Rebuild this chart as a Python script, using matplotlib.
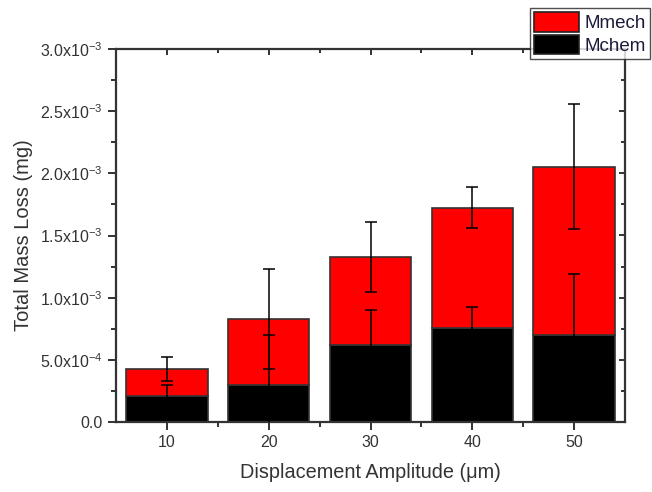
import matplotlib
matplotlib.use("Agg")
import matplotlib.pyplot as plt
import numpy as np
from matplotlib.patches import Patch
from matplotlib.ticker import FixedLocator, FuncFormatter, MultipleLocator

plt.rcParams['font.family'] = ['Liberation Sans', 'DejaVu Sans']
plt.rcParams['mathtext.fontset'] = 'custom'
plt.rcParams['mathtext.rm'] = 'Liberation Sans'
plt.rcParams['mathtext.it'] = 'Liberation Sans:italic'

# data (mg)
amplitude = [10, 20, 30, 40, 50]
m_chem = [2.07e-4, 2.98e-4, 6.17e-4, 7.59e-4, 7.00e-4]
m_mech = [2.19e-4, 5.28e-4, 7.08e-4, 9.65e-4, 13.54e-4]
chem_err = [0.88e-4, 4.00e-4, 2.82e-4, 1.64e-4, 4.93e-4]
mech_err = [0.93e-4, 4.03e-4, 2.80e-4, 1.66e-4, 5.04e-4]

AXIS_COLOR = '#333333'
TEXT_COLOR = '#333333'

fig = plt.figure(figsize=(6.52, 4.92), dpi=100)
ax = fig.add_axes([116 / 652, 1 - 422 / 492, (625 - 116) / 652, (422 - 49) / 492])

total = np.array(m_chem) + np.array(m_mech)
ax.bar(amplitude, m_chem, width=8, color='black', edgecolor=AXIS_COLOR, linewidth=1.2, zorder=2)
ax.bar(amplitude, m_mech, width=8, bottom=m_chem, color='red', edgecolor=AXIS_COLOR, linewidth=1.2, zorder=2)

err_style = dict(fmt='none', ecolor='black', elinewidth=1.1, capsize=4, capthick=1.1, zorder=3)
ax.errorbar(amplitude, m_chem, yerr=chem_err, **err_style)
ax.errorbar(amplitude, total, yerr=mech_err, **err_style)

ax.set_xlim(5, 55)
ax.set_ylim(0, 3.0e-3)


def sci_label(v, pos):
    if abs(v) < 1e-12:
        return '0.0'
    exp = int(np.floor(np.log10(abs(v))))
    return '%.1fx10$^{%d}$' % (v / 10 ** exp, exp)


ax.xaxis.set_major_locator(MultipleLocator(10))
ax.xaxis.set_minor_locator(FixedLocator([15, 25, 35, 45]))
ax.yaxis.set_major_locator(MultipleLocator(5e-4))
ax.yaxis.set_minor_locator(MultipleLocator(2.5e-4))
ax.yaxis.set_major_formatter(FuncFormatter(sci_label))

for side in ax.spines.values():
    side.set_linewidth(1.6)
    side.set_color(AXIS_COLOR)

ax.tick_params(which='major', direction='out', length=6, width=1.4, color=AXIS_COLOR,
               labelsize=11.5, labelcolor=TEXT_COLOR)
ax.tick_params(which='minor', direction='out', length=3.5, width=1.4, color=AXIS_COLOR)

# top and right axes carry inward ticks without labels
top = ax.secondary_xaxis('top')
top.xaxis.set_major_locator(MultipleLocator(10))
top.xaxis.set_minor_locator(FixedLocator([15, 25, 35, 45]))
top.tick_params(which='major', direction='in', length=4.5, width=1.4, color=AXIS_COLOR, labeltop=False)
top.tick_params(which='minor', direction='in', length=3, width=1.4, color=AXIS_COLOR)
top.spines['top'].set_visible(False)

right = ax.secondary_yaxis('right')
right.yaxis.set_major_locator(MultipleLocator(5e-4))
right.yaxis.set_minor_locator(MultipleLocator(2.5e-4))
right.tick_params(which='major', direction='in', length=4.5, width=1.4, color=AXIS_COLOR, labelright=False)
right.tick_params(which='minor', direction='in', length=3, width=1.4, color=AXIS_COLOR)
right.spines['right'].set_visible(False)

ax.set_xlabel('Displacement Amplitude (\u03bcm)', fontsize=14.3, color=TEXT_COLOR, labelpad=9)
ax.set_ylabel('Total Mass Loss (mg)', fontsize=14.5, color=TEXT_COLOR, labelpad=5)

handles = [Patch(facecolor='red', edgecolor='#222222', linewidth=1.2),
           Patch(facecolor='black', edgecolor='#222222', linewidth=1.2)]
leg = fig.legend(handles, ['Mmech', 'Mchem'], loc='upper left',
                 bbox_to_anchor=(530 / 652, 1 - 8 / 492), fontsize=13.5,
                 frameon=True, fancybox=False, shadow=False,
                 handlelength=2.4, handleheight=1.25, handletextpad=0.3,
                 labelspacing=0.12, borderpad=0.22, borderaxespad=0)
leg.get_frame().set_edgecolor('#222222')
leg.get_frame().set_linewidth(1.0)
for t in leg.get_texts():
    t.set_color('#1a1a3a')

fig.savefig('out.png', dpi=100)
